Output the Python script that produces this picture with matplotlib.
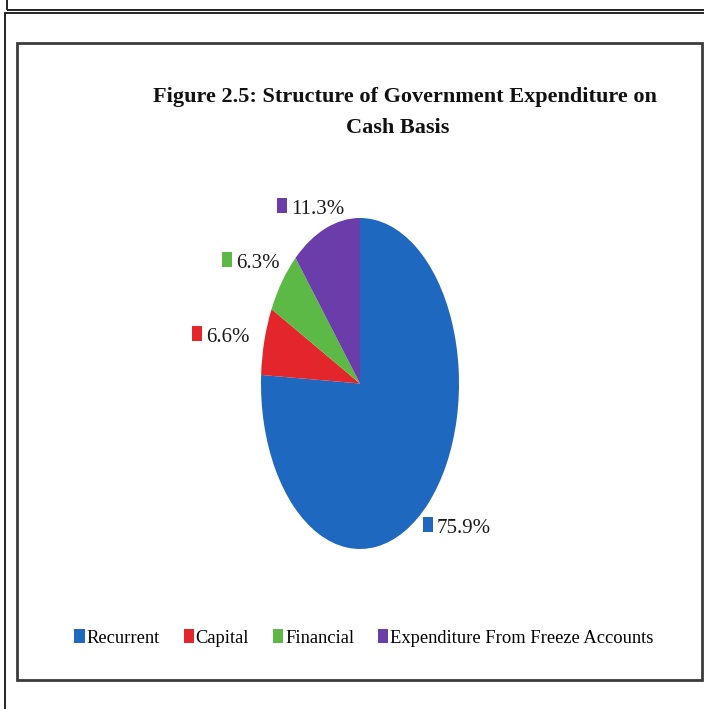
import matplotlib.pyplot as plt
from matplotlib.patches import Rectangle, Patch

W, H = 704, 709

categories = ['Recurrent', 'Capital', 'Financial', 'Expenditure From Freeze Accounts']
shares = [75.9, 6.6, 6.3, 11.3]
colors = ['#1E68C0', '#E3262B', '#5CB946', '#6A3DAA']
title_lines = ['Figure 2.5: Structure of Government Expenditure on', 'Cash Basis']

# where each value label sits (left of key box, text baseline), in pixels
label_spots = [(423, 533), (192, 342), (222, 268), (277, 214)]

SERIF = 'Liberation Serif'


def fx(x):
    return x / W


def fy(y):
    return 1 - y / H


fig = plt.figure(figsize=(W / 100, H / 100), dpi=100)

# page frames
fig.add_artist(Rectangle((fx(7), fy(10)), 1.0, 0.05, transform=fig.transFigure,
                         fill=False, edgecolor='#222222', linewidth=1.4, zorder=-2))
fig.add_artist(Rectangle((fx(5), -0.1), 1.0, fy(13) + 0.1, transform=fig.transFigure,
                         fill=False, edgecolor='#222222', linewidth=1.4, zorder=-2))
fig.add_artist(Rectangle((fx(17), fy(680)), fx(702) - fx(17), fy(43) - fy(680),
                         transform=fig.transFigure, facecolor='white',
                         edgecolor='#3c3c3c', linewidth=2.0, zorder=-1))

# title
fig.text(fx(405), fy(102), title_lines[0], ha='center', va='baseline',
         fontsize=16, fontweight='bold', family=SERIF, color='#111111')
fig.text(fx(398), fy(133), title_lines[1], ha='center', va='baseline',
         fontsize=16, fontweight='bold', family=SERIF, color='#111111')

# the pie is drawn stretched into an ellipse
ax = fig.add_axes([fx(261), fy(549), (459 - 261) / W, (549 - 218) / H])
ax.pie(shares, colors=colors, startangle=90, counterclock=False,
       wedgeprops=dict(linewidth=0))
ax.set_aspect('auto')
ax.set_xlim(-1, 1)
ax.set_ylim(-1, 1)
ax.axis('off')

# value labels with colour keys
for val, col, (x, y) in zip(shares, colors, label_spots):
    fig.add_artist(Rectangle((fx(x), fy(y - 1)), 10 / W, 15 / H,
                             transform=fig.transFigure, facecolor=col,
                             edgecolor='none'))
    fig.text(fx(x + 14), fy(y), f'{val:.1f}%', ha='left', va='baseline',
             fontsize=15, family=SERIF, color='#1a1a1a')

handles = [Patch(facecolor=c, edgecolor='none') for c in colors]
fig.legend(handles, categories, loc='center', bbox_to_anchor=(fx(364), fy(638)),
           ncol=4, frameon=False, prop={'family': SERIF, 'size': 13.3},
           handlelength=0.55, handleheight=0.8, handletextpad=0.1,
           columnspacing=1.3, borderpad=0)

fig.savefig('out.png', dpi=100)
